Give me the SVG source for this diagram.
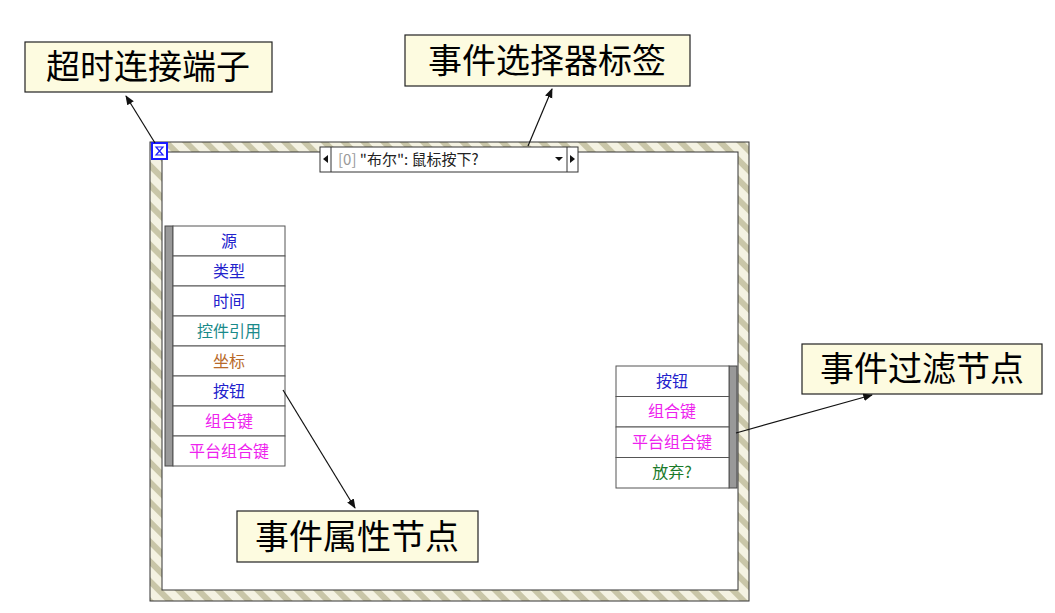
<svg xmlns="http://www.w3.org/2000/svg" width="1055" height="613" viewBox="0 0 1055 613">
<defs>
<pattern id="hatch" width="14" height="14" patternUnits="userSpaceOnUse" patternTransform="rotate(-45)">
<rect width="14" height="14" fill="#f4f2e2"/><rect width="6" height="14" fill="#c9c6a8"/>
</pattern>
<marker id="ah" viewBox="0 0 10 10" refX="9" refY="5" markerWidth="8" markerHeight="8" orient="auto"><path d="M0,1 L10,5 L0,9 z" fill="#111"/></marker>
<style>
.lbl{fill:#fdfbe0;stroke:#222;stroke-width:1.2}
.lt{font-family:"Noto Sans CJK SC",sans-serif;font-size:34px;fill:#000;text-anchor:middle}
.cell{fill:#fff;stroke:#555;stroke-width:1}
.ct{font-family:"Noto Sans CJK SC",sans-serif;font-size:16px;text-anchor:middle}
.bar{fill:#999;stroke:#444;stroke-width:1}
.con{stroke:#111;stroke-width:1.2;fill:none;marker-end:url(#ah)}
</style>
</defs>
<rect width="1055" height="613" fill="#fff"/>
<g id="frame">
<rect x="150" y="142" width="599" height="459" fill="url(#hatch)" stroke="#333"/>
<rect x="162" y="152" width="576" height="438" fill="#fff" stroke="#333"/>
</g>
<g id="timeout">
<rect x="152" y="143" width="15" height="16" fill="#fff" stroke="#1a1aff" stroke-width="2"/>
<path d="M156,147 h7 l-7,8 h7 z" fill="none" stroke="#1a1aff" stroke-width="1.2"/>
</g>
<g id="selector">
<rect x="320" y="147" width="258" height="25" fill="#fff" stroke="#333"/>
<line x1="331" y1="147" x2="331" y2="172" stroke="#333"/>
<line x1="567" y1="147" x2="567" y2="172" stroke="#333"/>
<path d="M328,155 v8 l-5,-4 z M570,155 v8 l5,-4 z M555,157 h8 l-4,4 z" fill="#111"/>
<text x="338" y="165" font-family="'Noto Sans CJK SC',sans-serif" font-size="15"><tspan fill="#999">[0]</tspan><tspan fill="#222"> "布尔": 鼠标按下?</tspan></text>
</g>
<g id="props">
<rect class="bar" x="165" y="226" width="8" height="240"/>
<g>
<rect class="cell" x="173" y="226" width="112" height="30"/><text class="ct" x="229" y="247" fill="#2222cc">源</text>
<rect class="cell" x="173" y="256" width="112" height="30"/><text class="ct" x="229" y="277" fill="#2222cc">类型</text>
<rect class="cell" x="173" y="286" width="112" height="30"/><text class="ct" x="229" y="307" fill="#2222cc">时间</text>
<rect class="cell" x="173" y="316" width="112" height="30"/><text class="ct" x="229" y="337" fill="#1a8a8a">控件引用</text>
<rect class="cell" x="173" y="346" width="112" height="30"/><text class="ct" x="229" y="367" fill="#b86a2a">坐标</text>
<rect class="cell" x="173" y="376" width="112" height="30"/><text class="ct" x="229" y="397" fill="#2222cc">按钮</text>
<rect class="cell" x="173" y="406" width="112" height="30"/><text class="ct" x="229" y="427" fill="#ee22ee">组合键</text>
<rect class="cell" x="173" y="436" width="112" height="30"/><text class="ct" x="229" y="457" fill="#ee22ee">平台组合键</text>
</g>
</g>
<g id="filter">
<rect class="bar" x="729" y="366" width="8" height="122"/>
<rect class="cell" x="616" y="366" width="113" height="30.5"/><text class="ct" x="672" y="387" fill="#2222cc">按钮</text>
<rect class="cell" x="616" y="396.5" width="113" height="30.5"/><text class="ct" x="672" y="417" fill="#ee22ee">组合键</text>
<rect class="cell" x="616" y="427" width="113" height="30.5"/><text class="ct" x="672" y="448" fill="#ee22ee">平台组合键</text>
<rect class="cell" x="616" y="457.5" width="113" height="30.5"/><text class="ct" x="672" y="478" fill="#1a7a2a">放弃?</text>
</g>
<g id="label-timeout"><rect class="lbl" x="25" y="42" width="247" height="50"/><text class="lt" x="148" y="79">超时连接端子</text></g>
<g id="label-selector"><rect class="lbl" x="405" y="35" width="285" height="51"/><text class="lt" x="547" y="73">事件选择器标签</text></g>
<g id="label-filter"><rect class="lbl" x="802" y="344" width="240" height="50"/><text class="lt" x="922" y="381">事件过滤节点</text></g>
<g id="label-props"><rect class="lbl" x="237" y="511" width="241" height="51"/><text class="lt" x="357" y="549">事件属性节点</text></g>
<g id="connectors">
<line class="con" x1="155" y1="143" x2="126" y2="96"/>
<line class="con" x1="528" y1="146" x2="552" y2="89"/>
<line class="con" x1="283" y1="390" x2="355" y2="508"/>
<line class="con" x1="736" y1="433" x2="872" y2="395"/>
</g>
</svg>
